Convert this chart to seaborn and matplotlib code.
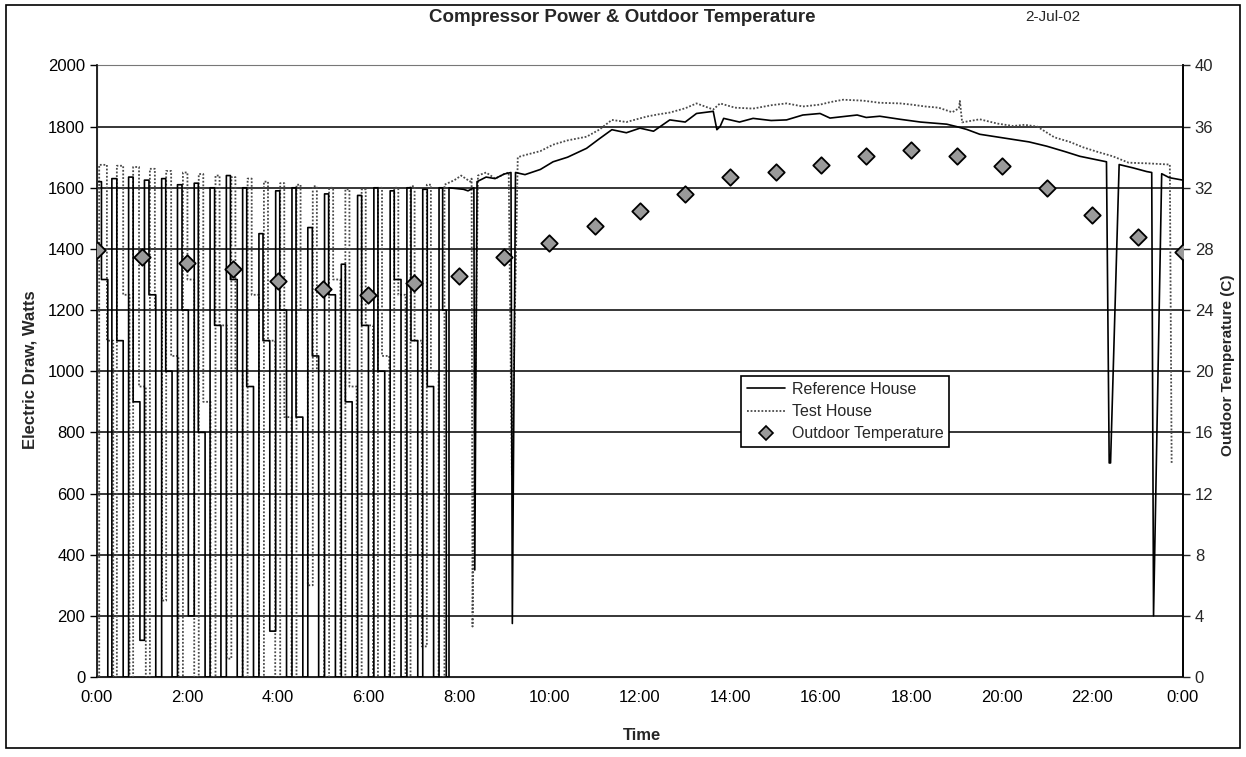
import matplotlib
matplotlib.use("Agg")
import matplotlib.pyplot as plt
from matplotlib.patches import Rectangle
from matplotlib.lines import Line2D
import seaborn as sns
import pandas as pd

# Outdoor temperature, one reading per hour (0:00 .. 24:00), deg C
temp_hours = list(range(25))
temp_c = [27.9, 27.5, 27.1, 26.7, 25.9, 25.4, 25.0, 25.8, 26.2, 27.5, 28.4, 29.5, 30.5,
          31.6, 32.7, 33.0, 33.5, 34.1, 34.5, 34.1, 33.4, 32.0, 30.2, 28.8, 27.8]

# Night-time compressor cycles, Reference House
# (hour it switches on, hour the draw first drops, hour it is off, watts on, watts part-way, watts off)
ref_rise = [0.00, 0.33, 0.70, 1.05, 1.43, 1.78, 2.15, 2.50, 2.86, 3.22, 3.58, 3.95, 4.31,
            4.66, 5.03, 5.40, 5.76, 6.12, 6.48, 6.85, 7.20, 7.56]
ref_top_end = [0.10, 0.44, 0.80, 1.15, 1.52, 1.88, 2.24, 2.60, 2.95, 3.31, 3.67, 4.04, 4.40,
               4.76, 5.12, 5.49, 5.85, 6.21, 6.57, 6.94, 7.30, 7.64]
ref_fall_end = [0.24, 0.58, 0.95, 1.30, 1.66, 2.02, 2.39, 2.74, 3.10, 3.46, 3.82, 4.19, 4.55,
                4.90, 5.27, 5.64, 6.00, 6.36, 6.72, 7.09, 7.44, 7.72]
ref_peak = [1620, 1630, 1635, 1625, 1630, 1610, 1615, 1600, 1640, 1600, 1450, 1590, 1600,
            1470, 1580, 1350, 1575, 1600, 1590, 1600, 1595, 1600]
ref_mid = [1300, 1100, 900, 1250, 1000, 1200, 800, 1150, 1300, 950, 1100, 1200, 850,
           1050, 1250, 900, 1150, 1000, 1300, 1100, 950, 1200]
ref_low = [0, 0, 120, 0, 0, 200, 0, 0, 0, 0, 150, 0, 0, 0, 0, 0, 0, 0, 0, 0, 0, 0]

# Night-time compressor cycles, Test House
test_rise = [0.05, 0.44, 0.80, 1.17, 1.53, 1.90, 2.25, 2.62, 2.97, 3.33, 3.69, 4.05, 4.41,
             4.77, 5.13, 5.49, 5.85, 6.21, 6.57, 6.93, 7.29]
test_top_end = [0.22, 0.58, 0.93, 1.28, 1.64, 2.00, 2.35, 2.71, 3.06, 3.42, 3.78, 4.14, 4.50,
                4.86, 5.22, 5.58, 5.94, 6.30, 6.66, 7.02, 7.38]
test_fall_end = [0.36, 0.72, 1.08, 1.44, 1.80, 2.15, 2.51, 2.87, 3.22, 3.58, 3.94, 4.30, 4.66,
                 5.02, 5.38, 5.74, 6.10, 6.46, 6.82, 7.18, 7.55]
test_peak = [1675, 1672, 1668, 1662, 1655, 1650, 1645, 1640, 1635, 1630, 1620, 1615, 1610,
             1605, 1600, 1595, 1595, 1600, 1600, 1605, 1610]
test_mid = [1100, 1250, 950, 1200, 1050, 1300, 900, 1150, 1000, 1250, 1100, 850, 1200,
            1000, 1300, 950, 1150, 1050, 1250, 1100, 1000]
test_low = [0, 0, 0, 250, 0, 0, 0, 60, 0, 0, 0, 0, 300, 0, 0, 0, 0, 0, 0, 100, 0]

# Continuous running from morning to midnight (hours, watts)
ref_day_t = [7.78, 8.10, 8.20, 8.33, 8.35, 8.40, 8.60, 8.80, 9.00, 9.15, 9.18, 9.25, 9.46,
             9.80, 10.08, 10.40, 10.82, 11.10, 11.38, 11.70, 12.00, 12.30, 12.66, 13.00,
             13.25, 13.62, 13.70, 13.77, 13.85, 14.20, 14.50, 14.90, 15.24, 15.60, 15.98,
             16.20, 16.49, 16.80, 17.00, 17.30, 17.75, 18.20, 18.78, 19.00, 19.22, 19.51,
             20.25, 20.60, 20.99, 21.40, 21.72, 22.31, 22.37, 22.40, 22.59, 22.90, 23.20,
             23.31, 23.35, 23.53, 23.70, 24.00]
ref_day_w = [1600, 1595, 1590, 1600, 350, 1620, 1635, 1630, 1645, 1650, 175, 1650, 1643,
             1660, 1685, 1700, 1729, 1760, 1790, 1780, 1795, 1785, 1822, 1815,
             1843, 1850, 1790, 1800, 1827, 1815, 1827, 1820, 1822, 1838, 1843,
             1828, 1833, 1838, 1830, 1834, 1824, 1815, 1808, 1800, 1791, 1775,
             1758, 1750, 1736, 1718, 1703, 1685, 700, 700, 1676, 1665, 1653,
             1650, 200, 1646, 1633, 1625]

test_day_t = [7.68, 7.90, 8.05, 8.25, 8.28, 8.30, 8.42, 8.60, 8.80, 9.00, 9.10, 9.17, 9.30,
              9.46, 9.80, 10.08, 10.40, 10.82, 11.10, 11.38, 11.70, 12.15, 12.40, 12.66,
              13.00, 13.25, 13.62, 13.77, 14.10, 14.50, 14.90, 15.24, 15.60, 15.98, 16.20,
              16.49, 16.93, 17.30, 17.75, 18.00, 18.30, 18.60, 18.90, 19.05, 19.07, 19.12,
              19.51, 19.90, 20.25, 20.50, 20.78, 21.16, 21.50, 21.80, 22.10, 22.45, 22.80,
              23.20, 23.71, 23.75]
test_day_w = [1610, 1625, 1640, 1620, 1630, 165, 1640, 1650, 1630, 1645, 1650, 660, 1700,
              1707, 1720, 1741, 1755, 1767, 1790, 1822, 1815, 1833, 1840, 1846,
              1860, 1876, 1856, 1876, 1862, 1859, 1870, 1876, 1866, 1872, 1880,
              1888, 1885, 1878, 1876, 1872, 1866, 1862, 1847, 1860, 1884, 1814,
              1824, 1810, 1802, 1806, 1800, 1765, 1750, 1732, 1718, 1703, 1682,
              1680, 1676, 700]


def cycle_points(rise, top_end, fall_end, peak, mid, low, day_t, day_w):
    t, w = [], []
    prev_low = low[0]
    for a, b, c, p, m, lo in zip(rise, top_end, fall_end, peak, mid, low):
        t += [a, a, b, b, c, c]
        w += [prev_low, p, p, m, m, lo]
        prev_low = lo
    t += [day_t[0]] + day_t
    w += [prev_low] + day_w
    return pd.DataFrame({"hour": t, "watts": w})


ref_df = cycle_points(ref_rise, ref_top_end, ref_fall_end, ref_peak, ref_mid, ref_low,
                      ref_day_t, ref_day_w)
test_df = cycle_points(test_rise, test_top_end, test_fall_end, test_peak, test_mid, test_low,
                       test_day_t, test_day_w)
temp_df = pd.DataFrame({"hour": temp_hours, "temp": temp_c})

sns.set_style("white")
plt.rcParams["font.family"] = ["Liberation Sans", "DejaVu Sans"]

fig = plt.figure(figsize=(12.46, 7.57), dpi=100)
ax = fig.add_axes([0.0778, 0.1057, 0.8716, 0.8078])

# horizontal gridlines
for v in range(200, 2000, 200):
    ax.axhline(v, color="black", lw=1.1, zorder=1)

sns.lineplot(data=test_df, x="hour", y="watts", estimator=None, sort=False, ax=ax,
             color="#4a4a4a", lw=1.3, linestyle=(0, (1, 1)), zorder=3)
sns.lineplot(data=ref_df, x="hour", y="watts", estimator=None, sort=False, ax=ax,
             color="black", lw=1.2, zorder=4)

ax.set_xlim(0, 24)
ax.set_ylim(0, 2000)
ax.set_yticks(range(0, 2001, 200))
ax.set_xticks(range(0, 25, 2))
ax.set_xticklabels([f"{h % 24}:00" for h in range(0, 25, 2)])
ax.set_xticks(range(0, 25), minor=True)
ax.tick_params(axis="both", which="both", direction="out", labelsize=12, colors="black")
ax.tick_params(axis="x", which="both", length=6, width=1)
ax.tick_params(axis="y", length=5, width=1)
ax.set_xlabel("")
ax.set_ylabel("")
for side in ["left", "bottom", "right"]:
    ax.spines[side].set_color("black")
    ax.spines[side].set_linewidth(1.2)
ax.spines["top"].set_color("#777777")
ax.spines["top"].set_linestyle((0, (2, 1)))

ax2 = ax.twinx()
sns.scatterplot(data=temp_df, x="hour", y="temp", ax=ax2, marker="D", s=70,
                color="#9a9a9a", edgecolor="black", linewidth=1.3, zorder=5)
ax2.set_ylim(0, 40)
ax2.set_yticks(range(0, 41, 4))
ax2.tick_params(axis="y", direction="out", length=5, width=1, labelsize=12)
ax2.set_ylabel("")
ax2.set_xlabel("")
ax2.spines["right"].set_color("black")
ax2.spines["right"].set_linewidth(1.2)
ax2.spines["top"].set_visible(False)

handles = [
    Line2D([], [], color="black", lw=1.2),
    Line2D([], [], color="#4a4a4a", lw=1.3, linestyle=(0, (1, 1))),
    Line2D([], [], color="#9a9a9a", marker="D", markersize=7, markeredgecolor="black",
           markeredgewidth=1.2, linestyle="none"),
]
leg = ax2.legend(handles, ["Reference House", "Test House", "Outdoor Temperature"],
                 loc="lower left", bbox_to_anchor=(0.586, 0.363), fontsize=11.5,
                 frameon=True, fancybox=False, framealpha=1, edgecolor="black",
                 handlelength=2.4, handletextpad=0.4, labelspacing=0.45, borderpad=0.35)
leg.get_frame().set_linewidth(1.2)

fig.text(0.499, 0.977, "Compressor Power & Outdoor Temperature", ha="center", va="center",
         fontsize=13.5, fontweight="bold")
fig.text(0.845, 0.978, "2-Jul-02", ha="center", va="center", fontsize=11)
fig.text(0.515, 0.029, "Time", ha="center", va="center", fontsize=12, fontweight="bold")
fig.text(0.024, 0.511, "Electric Draw, Watts", rotation=90, ha="center", va="center",
         fontsize=12, fontweight="bold")
fig.text(0.9856, 0.518, "Outdoor Temperature (C)", rotation=90, ha="center", va="center",
         fontsize=11, fontweight="bold")

fig.patches.append(Rectangle((0.005, 0.012), 0.990, 0.981, transform=fig.transFigure,
                             fill=False, edgecolor="black", lw=1.2))

fig.savefig("out.png", dpi=100)
